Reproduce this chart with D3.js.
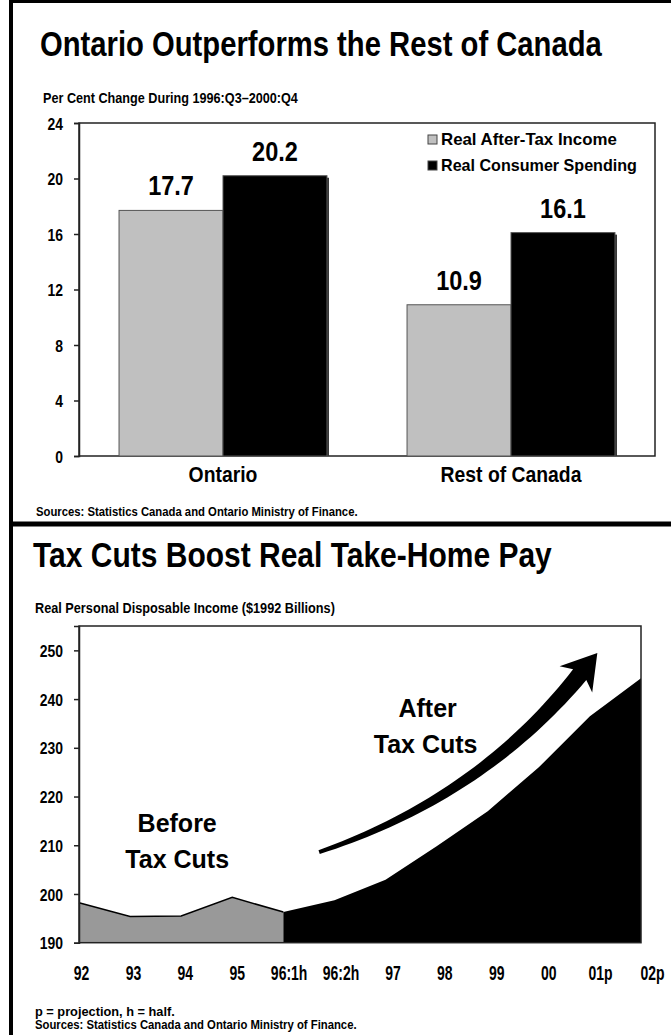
<!DOCTYPE html>
<html>
<head>
<meta charset="utf-8">
<script src="https://cdn.jsdelivr.net/npm/d3@7"></script>
<style>
  html, body { margin: 0; padding: 0; background: #fff; }
  svg { display: block; }
  text { font-family: "Liberation Sans", Arial, Helvetica, sans-serif; font-weight: bold; fill: #000; }
</style>
</head>
<body>
<svg id="page" width="671" height="1035"></svg>
<script>
// ---- Panel 1: per cent change, 1996:Q3–2000:Q4 ----
const categories = ["Ontario", "Rest of Canada"];
const seriesNames = ["Real After-Tax Income", "Real Consumer Spending"];
const afterTaxIncome = [17.7, 10.9];
const consumerSpending = [20.2, 16.1];
const pctTicks = [0, 4, 8, 12, 16, 20, 24];

// ---- Panel 2: real personal disposable income ($1992 billions) ----
const periods = ["92", "93", "94", "95", "96:1h", "96:2h", "97", "98", "99", "00", "01p", "02p"];
const disposableIncome = [198.2, 195.4, 195.5, 199.3, 196.3, 198.7, 202.9, 209.8, 217.0, 226.0, 236.5, 244.3];
const taxCutStart = "96:1h";
const incomeTicks = [190, 200, 210, 220, 230, 240, 250];

const svg = d3.select("#page");

// Text in a condensed style: the glyphs are squeezed horizontally, either
// by a factor k or down to a target width w.
function label(parent, x, y, str, size, opt = {}) {
  const t = parent.append("text").attr("font-size", size)
    .attr("text-anchor", opt.anchor || "start").text(str);
  const L = t.node().getComputedTextLength();
  const k = opt.w ? opt.w / L : (opt.k || 1);
  t.attr("transform", `translate(${x},${y}) scale(${k},1)`);
  return t;
}
function squeezeTicks(axisG, k) {
  axisG.selectAll(".tick text").each(function () {
    const t = d3.select(this);
    const x = +t.attr("x") || 0;
    t.attr("x", x / k).attr("transform", `scale(${k},1)`);
  });
}

// ---------- frame ----------
svg.append("rect").attr("width", 671).attr("height", 1035).attr("fill", "#fff");
svg.append("line").attr("x1", 11).attr("x2", 11).attr("y1", 0).attr("y2", 1035)
  .attr("stroke", "#000").attr("stroke-width", 4);
svg.append("line").attr("x1", 9).attr("x2", 671).attr("y1", 1.5).attr("y2", 1.5)
  .attr("stroke", "#000").attr("stroke-width", 3);
svg.append("line").attr("x1", 9).attr("x2", 671).attr("y1", 524).attr("y2", 524)
  .attr("stroke", "#000").attr("stroke-width", 5);

// ================= Panel 1 =================
label(svg, 40, 56, "Ontario Outperforms the Rest of Canada", 35, { w: 562 });
label(svg, 43, 103, "Per Cent Change During 1996:Q3\u20132000:Q4", 14.5, { w: 255 });

const p1 = { left: 79, right: 655, top: 123, bottom: 456 };
const y1 = d3.scaleLinear().domain([0, 24]).range([p1.bottom, p1.top]);
const x1 = d3.scaleBand().domain(categories).range([p1.left, p1.right]).paddingInner(0.278).paddingOuter(0.139);
const xs = d3.scaleBand().domain(seriesNames).range([0, x1.bandwidth()]);
const fills = ["#c0c0c0", "#000"];

const g1 = svg.append("g");
g1.append("rect").attr("x", p1.left).attr("y", p1.top)
  .attr("width", p1.right - p1.left).attr("height", p1.bottom - p1.top)
  .attr("fill", "none").attr("stroke", "#222").attr("stroke-width", 1.5);

const rows = categories.map((c, i) => ({ cat: c, vals: [afterTaxIncome[i], consumerSpending[i]] }));
const grp = g1.selectAll("g.cat").data(rows).join("g").attr("class", "cat")
  .attr("transform", d => `translate(${x1(d.cat)},0)`);
// soft shadow behind the black bars
grp.selectAll("rect.sh").data(d => [{ v: d.vals[1], k: 1 }]).join("rect")
  .attr("x", e => xs(seriesNames[e.k]) + 2).attr("y", e => y1(e.v) + 2)
  .attr("width", xs.bandwidth()).attr("height", e => y1(0) - y1(e.v) - 2)
  .attr("fill", "#333");
grp.selectAll("rect.bar").data(d => d.vals.map((v, k) => ({ v, k }))).join("rect")
  .attr("x", e => xs(seriesNames[e.k])).attr("y", e => y1(e.v))
  .attr("width", xs.bandwidth()).attr("height", e => y1(0) - y1(e.v))
  .attr("fill", e => fills[e.k]).attr("stroke", "#555").attr("stroke-width", 1);
grp.each(function (d) {
  const g = d3.select(this);
  d.vals.forEach((v, k) => {
    label(g, xs(seriesNames[k]) + xs.bandwidth() / 2, y1(v) - 15, v.toFixed(1), 28, { anchor: "middle", k: 0.84 });
  });
});

// y axis
const ay1 = g1.append("g").attr("transform", `translate(${p1.left},0)`)
  .call(d3.axisLeft(y1).tickValues(pctTicks).tickSize(5).tickPadding(11).tickFormat(d3.format("d")));
ay1.select(".domain").attr("stroke", "#222").attr("stroke-width", 1.5);
ay1.selectAll(".tick line").attr("stroke", "#222").attr("stroke-width", 1.5);
ay1.selectAll(".tick text").attr("font-size", 17).attr("font-family", null).attr("fill", "#000").attr("dy", "0.36em");
squeezeTicks(ay1, 0.82);

// category labels
categories.forEach(c => label(g1, x1(c) + x1.bandwidth() / 2, 482, c, 22, { anchor: "middle", k: 0.88 }));

// legend
const legendWidths = [176, 196];
seriesNames.forEach((s, k) => {
  const yy = 140 + k * 26;
  g1.append("rect").attr("x", 428).attr("y", yy - 5).attr("width", 9).attr("height", 9)
    .attr("fill", fills[k]).attr("stroke", "#444").attr("stroke-width", 1);
  label(g1, 441, yy + 5, s, 16.5, { w: legendWidths[k] });
});

label(svg, 36, 516, "Sources:  Statistics Canada and Ontario Ministry of Finance.", 13, { w: 322 });

// ================= Panel 2 =================
label(svg, 33, 567, "Tax Cuts Boost Real Take-Home Pay", 35, { w: 519 });
label(svg, 35, 613, "Real Personal Disposable Income ($1992 Billions)", 14.5, { w: 300 });

const p2 = { left: 79, right: 641, top: 626, bottom: 942.7 };
const x2 = d3.scalePoint().domain(periods).range([p2.left, p2.right]);
const y2 = d3.scaleLinear().domain([190, 255]).range([p2.bottom, p2.top]);
// category axis runs a little wider than the plot box
const xLab = d3.scalePoint().domain(periods).range([p2.left + 2, p2.right + 11]);

const pts = periods.map((p, i) => ({ p, v: disposableIncome[i] }));
const cut = periods.indexOf(taxCutStart);
const before = pts.slice(0, cut + 1);
const after = pts.slice(cut);

const area = d3.area().x(d => x2(d.p)).y0(y2(190)).y1(d => y2(d.v));
const line = d3.line().x(d => x2(d.p)).y(d => y2(d.v));

const g2 = svg.append("g");
g2.append("path").datum(before).attr("d", area).attr("fill", "#999");
g2.append("path").datum(before).attr("d", line).attr("fill", "none").attr("stroke", "#000").attr("stroke-width", 1.5);
g2.append("path").datum(after).attr("d", area).attr("fill", "#000");

g2.append("rect").attr("x", p2.left).attr("y", p2.top)
  .attr("width", p2.right - p2.left).attr("height", p2.bottom - p2.top)
  .attr("fill", "none").attr("stroke", "#222").attr("stroke-width", 1.5);

const ay2 = g2.append("g").attr("transform", `translate(${p2.left},0)`)
  .call(d3.axisLeft(y2).tickValues(incomeTicks).tickSize(5).tickPadding(11));
ay2.select(".domain").attr("stroke", "#222").attr("stroke-width", 1.5);
ay2.selectAll(".tick line").attr("stroke", "#222").attr("stroke-width", 1.5);
ay2.selectAll(".tick text").attr("font-size", 17).attr("font-family", null).attr("fill", "#000").attr("dy", "0.36em");
squeezeTicks(ay2, 0.82);

const ax2 = g2.append("g").attr("transform", `translate(0,${p2.bottom})`)
  .call(d3.axisBottom(xLab).tickSize(0).tickPadding(23));
ax2.select(".domain").remove();
ax2.selectAll(".tick text").attr("font-size", 20).attr("font-family", null).attr("fill", "#000");
squeezeTicks(ax2, 0.7);

// rising arrow, laid out in data units
const T = [x2("96:1h") + 0.7 * x2.step(), y2(208.6)];
const C = [x2("98") + 0.85 * x2.step(), y2(219.8)];
const B = [x2("01p") - 0.2 * x2.step(), y2(245)];
function bez(t) {
  const a = (1 - t) * (1 - t), b = 2 * t * (1 - t), c = t * t;
  return [a * T[0] + b * C[0] + c * B[0], a * T[1] + b * C[1] + c * B[1]];
}
function tan(t) {
  const dx = 2 * (1 - t) * (C[0] - T[0]) + 2 * t * (B[0] - C[0]);
  const dy = 2 * (1 - t) * (C[1] - T[1]) + 2 * t * (B[1] - C[1]);
  const L = Math.hypot(dx, dy);
  return [dx / L, dy / L];
}
const N = 40, upper = [], lower = [];
for (let i = 0; i <= N; i++) {
  const t = i / N, p = bez(t), u = tan(t), n = [u[1], -u[0]];
  const w = 2 + 6.5 * t;
  upper.push([p[0] + n[0] * w, p[1] + n[1] * w]);
  lower.push([p[0] - n[0] * w, p[1] - n[1] * w]);
}
const uB = tan(1), nB = [uB[1], -uB[0]];
const back = [B[0] - uB[0] * 6, B[1] - uB[1] * 6];
const tip = [B[0] + uB[0] * 28, B[1] + uB[1] * 28];
const barbU = [back[0] + nB[0] * 21, back[1] + nB[1] * 21];
const barbL = [back[0] - nB[0] * 21, back[1] - nB[1] * 21];
const arrowPts = upper.concat([barbU, tip, barbL]).concat(lower.slice().reverse());
g2.append("path").attr("d", d3.line()(arrowPts) + "Z").attr("fill", "#000");

// annotations
label(g2, x2("94") - 4, y2(212.8), "Before", 25, { anchor: "middle" });
label(g2, x2("94") - 4, y2(205.3), "Tax Cuts", 25, { anchor: "middle" });
label(g2, x2("98") - 9, y2(236.3), "After", 25, { anchor: "middle" });
label(g2, x2("98") - 11, y2(228.9), "Tax Cuts", 25, { anchor: "middle" });

label(svg, 35, 1016, "p = projection, h = half.", 13, { w: 140 });
label(svg, 35, 1029, "Sources:  Statistics Canada and Ontario Ministry of Finance.", 13, { w: 322 });
</script>
</body>
</html>
